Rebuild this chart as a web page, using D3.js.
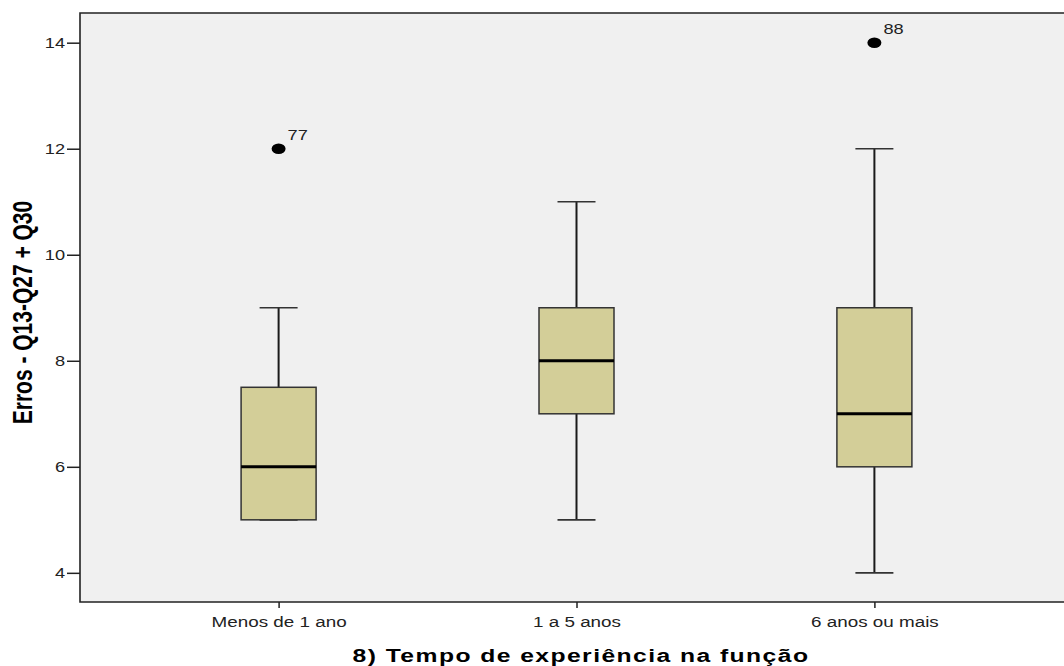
<!DOCTYPE html>
<html>
<head>
<meta charset="utf-8">
<script src="https://cdn.jsdelivr.net/npm/d3@7"></script>
<style>
  body { margin: 0; background: #fff; }
  svg { display: block; font-family: "Liberation Sans", Arial, sans-serif; }
</style>
</head>
<body>
<svg id="chart" width="1064" height="666"></svg>
<script>
// Groups and five-number summaries
const categories = ["Menos de 1 ano", "1 a 5 anos", "6 anos ou mais"];
const whiskerLow  = [5, 5, 4];
const quartile1   = [5, 7, 6];
const medians     = [6, 8, 7];
const quartile3   = [7.5, 9, 9];
const whiskerHigh = [9, 11, 12];
// Outliers: group index, value, case label
const outlierGroup = [0, 2];
const outlierValue = [12, 14];
const outlierLabel = ["77", "88"];
const yTicks = [4, 6, 8, 10, 12, 14];

const svg = d3.select("#chart");
const plot = { left: 80, top: 13, right: 1073, bottom: 602 };
const stretch = 1.3;   // wide text rendering

const x = d3.scalePoint()
  .domain(categories)
  .range([plot.left, plot.right])
  .padding(2 / 3);

const y = d3.scaleLinear()
  .domain([3.45, 14.56])
  .range([plot.bottom, plot.top]);

// Plot background
svg.append("rect")
  .attr("x", plot.left).attr("y", plot.top)
  .attr("width", plot.right - plot.left).attr("height", plot.bottom - plot.top)
  .attr("fill", "#f0f0f0");

const boxW = 75, capW = 38;

const groups = categories.map((c, i) => ({
  cat: c, lo: whiskerLow[i], q1: quartile1[i], med: medians[i], q3: quartile3[i], hi: whiskerHigh[i]
}));

const g = svg.append("g");

// Whiskers and caps
groups.forEach(d => {
  const cx = x(d.cat);
  g.append("line").attr("x1", cx).attr("x2", cx).attr("y1", y(d.q3)).attr("y2", y(d.hi))
    .attr("stroke", "#1a1a1a").attr("stroke-width", 2);
  g.append("line").attr("x1", cx).attr("x2", cx).attr("y1", y(d.q1)).attr("y2", y(d.lo))
    .attr("stroke", "#1a1a1a").attr("stroke-width", 2);
  g.append("line").attr("x1", cx - capW / 2).attr("x2", cx + capW / 2).attr("y1", y(d.hi)).attr("y2", y(d.hi))
    .attr("stroke", "#333").attr("stroke-width", 1.6);
  g.append("line").attr("x1", cx - capW / 2).attr("x2", cx + capW / 2).attr("y1", y(d.lo)).attr("y2", y(d.lo))
    .attr("stroke", "#333").attr("stroke-width", 1.6);
});

// Boxes
g.selectAll("rect.box").data(groups).join("rect")
  .attr("class", "box")
  .attr("x", d => x(d.cat) - boxW / 2)
  .attr("y", d => y(d.q3))
  .attr("width", boxW)
  .attr("height", d => y(d.q1) - y(d.q3))
  .attr("fill", "#d3ce98")
  .attr("stroke", "#333")
  .attr("stroke-width", 1.5);

// Medians
g.selectAll("line.median").data(groups).join("line")
  .attr("class", "median")
  .attr("x1", d => x(d.cat) - boxW / 2)
  .attr("x2", d => x(d.cat) + boxW / 2)
  .attr("y1", d => y(d.med)).attr("y2", d => y(d.med))
  .attr("stroke", "#000").attr("stroke-width", 3);

// Outliers with case labels
outlierGroup.forEach((gi, k) => {
  const cx = x(categories[gi]);
  const cy = y(outlierValue[k]);
  g.append("ellipse").attr("cx", cx).attr("cy", cy).attr("rx", 7).attr("ry", 5.3).attr("fill", "#000");
  g.append("text")
    .attr("transform", `translate(${cx + 9},${cy - 9}) scale(${stretch},1)`)
    .attr("font-size", 14).attr("fill", "#222").text(outlierLabel[k]);
});

// Y axis
const yAxis = svg.append("g")
  .attr("transform", `translate(${plot.left},0)`)
  .call(d3.axisLeft(y).tickValues(yTicks).tickSize(13).tickFormat(d3.format("d")));
yAxis.select(".domain").remove();
yAxis.selectAll(".tick line").attr("stroke", "#222").attr("stroke-width", 1.5);
yAxis.selectAll(".tick text")
  .attr("x", -15 / stretch)
  .attr("transform", `scale(${stretch},1)`)
  .attr("font-size", 14).attr("fill", "#222")
  .attr("font-family", "Liberation Sans, Arial, sans-serif");

// X axis
const xAxis = svg.append("g")
  .attr("transform", `translate(0,${plot.bottom})`)
  .call(d3.axisBottom(x).tickSize(6));
xAxis.select(".domain").remove();
xAxis.selectAll(".tick line").attr("stroke", "#222").attr("stroke-width", 1.5);
xAxis.selectAll(".tick text")
  .attr("y", 25).attr("dy", null)
  .attr("transform", `scale(${stretch},1)`)
  .attr("font-size", 14.5).attr("fill", "#222")
  .attr("font-family", "Liberation Sans, Arial, sans-serif");

// Frame lines: left, top, bottom
svg.append("path")
  .attr("d", `M${plot.right},${plot.top}H${plot.left}V${plot.bottom}H${plot.right}`)
  .attr("fill", "none").attr("stroke", "#222").attr("stroke-width", 1.6);

// Axis titles
svg.append("text")
  .attr("transform", `translate(31.5,312.5) scale(${stretch},1) rotate(-90)`)
  .attr("text-anchor", "middle")
  .attr("font-size", 21).attr("font-weight", "bold").attr("fill", "#000")
  .text("Erros - Q13-Q27 + Q30");

svg.append("text")
  .attr("transform", `translate(581,662) scale(${stretch},1)`)
  .attr("text-anchor", "middle")
  .attr("font-size", 19).attr("font-weight", "bold").attr("letter-spacing", 1.1)
  .attr("fill", "#000")
  .text("8) Tempo de experiência na função");
</script>
</body>
</html>
